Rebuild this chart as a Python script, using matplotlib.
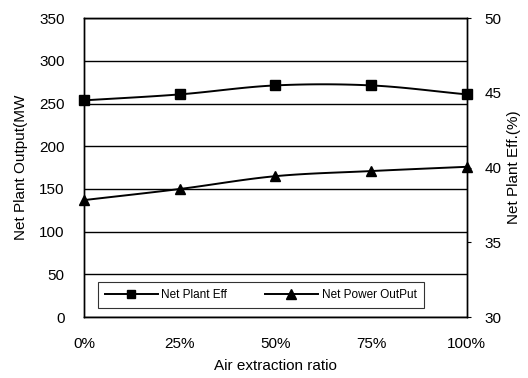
import numpy as np
import matplotlib
matplotlib.use('Agg')
import matplotlib.pyplot as plt

plt.rcParams['font.family'] = ['Liberation Sans', 'DejaVu Sans']

ratio = [0, 25, 50, 75, 100]
ratio_labels = ['0%', '25%', '50%', '75%', '100%']
net_plant_eff = [44.5, 44.9, 45.5, 45.5, 44.9]      # %
net_power_output = [137, 150, 165, 171, 176]        # MW


def smooth(x, y, n=20):
    ''' Catmull-Rom style curve through the points (like a spreadsheet smoothed line) '''
    x = np.asarray(x, float)
    y = np.asarray(y, float)
    px = np.concatenate([[2 * x[0] - x[1]], x, [2 * x[-1] - x[-2]]])
    py = np.concatenate([[2 * y[0] - y[1]], y, [2 * y[-1] - y[-2]]])
    xs, ys = [], []
    t = np.linspace(0, 1, n)
    for i in range(1, len(px) - 2):
        for p, out in ((px, xs), (py, ys)):
            p0, p1, p2, p3 = p[i - 1], p[i], p[i + 1], p[i + 2]
            out.extend(0.5 * ((2 * p1) + (-p0 + p2) * t
                              + (2 * p0 - 5 * p1 + 4 * p2 - p3) * t ** 2
                              + (-p0 + 3 * p1 - 3 * p2 + p3) * t ** 3))
    return xs, ys


def main():
    fig = plt.figure(figsize=(5.28, 3.78), dpi=100)
    ax = fig.add_axes([0.159, 0.161, 0.725, 0.791])
    ax2 = ax.twinx()

    ax.set_ylim(0, 350)
    ax.set_xlim(0, 100)
    ax.set_yticks(range(0, 351, 50))
    ax.yaxis.grid(True, color='black', linewidth=1.0)
    ax.set_axisbelow(True)
    ax.set_xticks(ratio)
    ax.set_xticklabels(ratio_labels)
    ax.tick_params(axis='y', length=0, labelsize=11, pad=14)
    ax.tick_params(axis='x', length=0, labelsize=11, pad=14)
    ax.set_xlabel('Air extraction ratio', fontsize=11, labelpad=6)
    ax.set_ylabel('Net Plant Output(MW', fontsize=11, labelpad=8)

    ax2.set_ylim(30, 50)
    ax2.set_yticks([30, 35, 40, 45, 50])
    ax2.tick_params(axis='y', length=3, labelsize=11, pad=10)
    ax2.set_ylabel('Net Plant Eff.(%)', fontsize=11, labelpad=4)

    for a in (ax, ax2):
        for s in a.spines.values():
            s.set_linewidth(1.0)
            s.set_color('black')

    sx, sy = smooth(ratio, net_power_output)
    ax.plot(sx, sy, color='black', lw=1.4, clip_on=False)
    ax.plot(ratio, net_power_output, color='black', marker='^',
            markersize=7, linestyle='none', clip_on=False)

    sx, sy = smooth(ratio, net_plant_eff)
    ax2.plot(sx, sy, color='black', lw=1.4, clip_on=False)
    ax2.plot(ratio, net_plant_eff, color='black', marker='s',
             markersize=7, linestyle='none', clip_on=False)

    h1 = plt.Line2D([], [], color='black', lw=1.4, marker='s', markersize=6)
    h2 = plt.Line2D([], [], color='black', lw=1.4, marker='^', markersize=7)
    leg = ax2.legend([h1, h2], ['Net Plant Eff', 'Net Power OutPut'], ncol=2,
                     loc='lower left', bbox_to_anchor=(0.02, 0.01), fontsize=8.5,
                     frameon=True, fancybox=False, handlelength=4.5,
                     handletextpad=0.3, columnspacing=3.2, borderpad=0.6)
    leg.get_frame().set_edgecolor('black')
    leg.get_frame().set_linewidth(0.8)

    fig.savefig('out.png', dpi=100)


if __name__ == '__main__':
    main()
